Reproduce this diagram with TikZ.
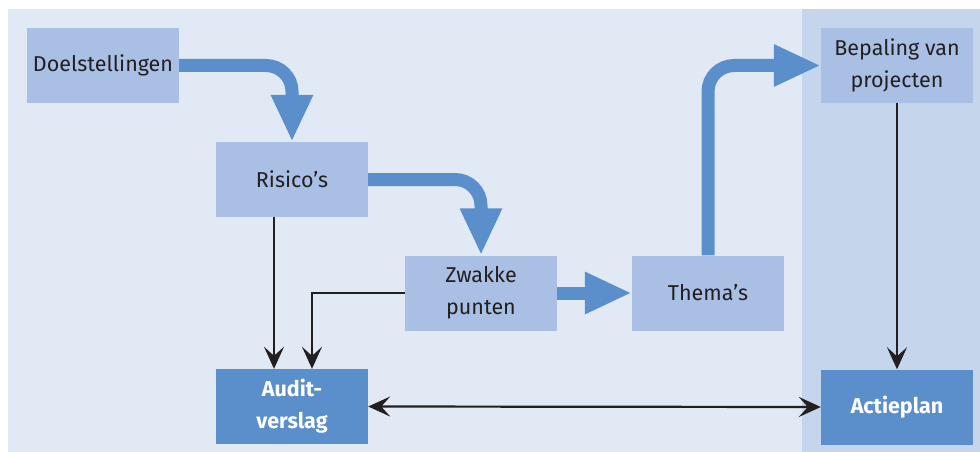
\documentclass[tikz,border=0pt]{standalone}
\usepackage{fontspec}
\setmainfont{Fira Sans}
\usetikzlibrary{arrows.meta}
\definecolor{achter}{HTML}{E1E9F5}
\definecolor{paneel}{HTML}{C5D5EB}
\definecolor{licht}{HTML}{A9BFE4}
\definecolor{donker}{HTML}{5A8FCB}
\definecolor{tekst}{HTML}{231F20}

\begin{document}
\begin{tikzpicture}[x=1pt,y=-1pt,
  blok/.style={fill=licht,text=tekst,minimum width=152pt,minimum height=75pt,inner sep=0pt,align=center,font=\fontsize{21.5}{32}\selectfont},
  blokd/.style={blok,fill=donker,text=white,font=\bfseries\fontsize{21.5}{32}\selectfont},
  stroom/.style={draw=donker,line width=13pt,rounded corners=26pt,-{Triangle[width=39pt,length=47pt]}},
  lijn/.style={draw=tekst,line width=2.2pt,-{Stealth[width=20pt,length=22pt,inset=9pt]}},
  tweezijdig/.style={draw=tekst,line width=2.2pt,{Stealth[width=20pt,length=22pt,inset=9pt]}-{Stealth[width=20pt,length=22pt,inset=9pt]}}]
\useasboundingbox (0,0) rectangle (980,452);
\fill[achter] (8,9) rectangle (980,452);
\fill[paneel] (802,9) rectangle (980,452);
\node[blok] (doel) at (103,65.5) {Doelstellingen};
\node[blok] (risico) at (292,179.5) {Risico’s};
\node[blok] (zwak) at (481,293) {Zwakke\\punten};
\node[blok] (thema) at (708,293) {Thema’s};
\node[blok] (bepaling) at (897,65.5) {Bepaling van\\projecten};
\node[blokd] (audit) at (292,406.5) {Audit-\\verslag};
\node[blokd] (actie) at (897,407) {Actieplan};
\draw [stroom] (doel.east) -| (risico.north);
\draw [stroom] (risico.east) -| (zwak.north);
\draw [stroom] (zwak.east) -- (thema.west);
\draw [stroom] (thema.north) |- (bepaling.west);
\draw [lijn] ([xshift=-18pt]risico.south) -- ([xshift=-18pt]audit.north);
\draw [lijn] (zwak.west) -| ([xshift=20pt]audit.north);
\draw [tweezijdig] (audit.east) -- (actie.west);
\draw [lijn] (bepaling.south) -- (actie.north);
\end{tikzpicture}
\end{document}
